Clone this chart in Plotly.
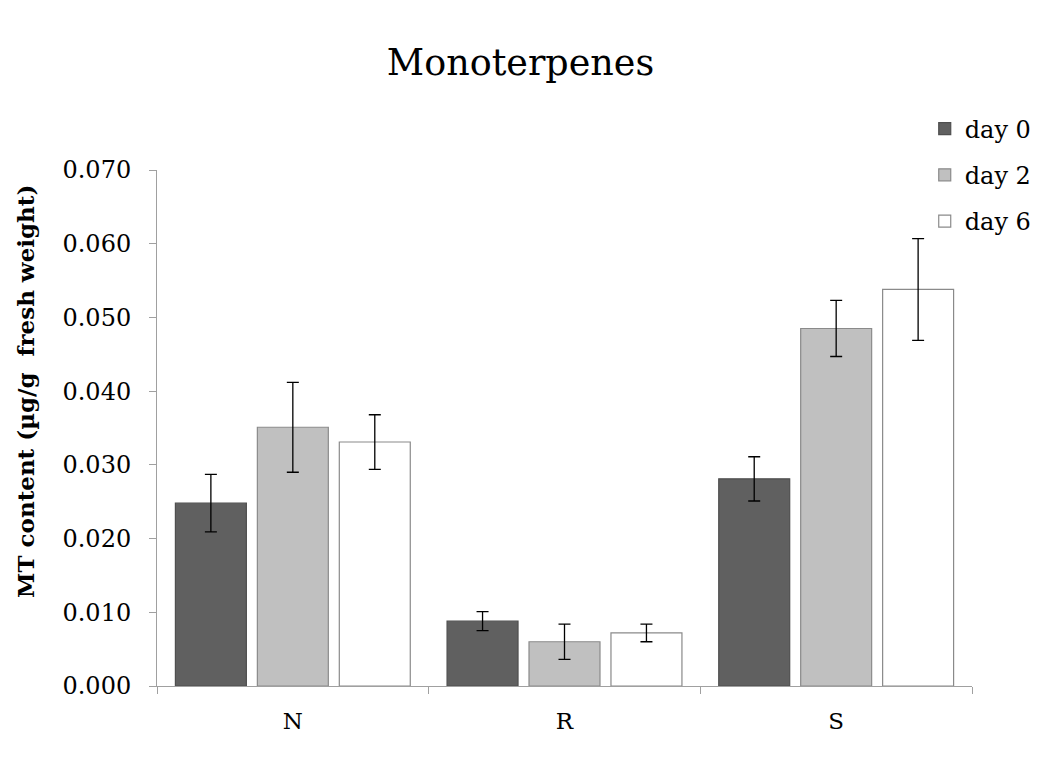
import plotly.graph_objects as go

# Monoterpene content per cultivar group and sampling day
categories = ["N", "R", "S"]
days = ["day 0", "day 2", "day 6"]
means = {
    "day 0": [0.0248, 0.0088, 0.0281],
    "day 2": [0.0351, 0.0060, 0.0485],
    "day 6": [0.0331, 0.0072, 0.0538],
}
errors = {
    "day 0": [0.0039, 0.0013, 0.0030],
    "day 2": [0.0061, 0.0024, 0.0038],
    "day 6": [0.0037, 0.0012, 0.0069],
}
y_ticks = [0.0, 0.01, 0.02, 0.03, 0.04, 0.05, 0.06, 0.07]

fills = {"day 0": "#606060", "day 2": "#c0c0c0", "day 6": "#ffffff"}
edges = {"day 0": "#4f4f4f", "day 2": "#8a8a8a", "day 6": "#8a8a8a"}

FONT = "DejaVu Serif"

fig = go.Figure()
for i, d in enumerate(days):
    fig.add_trace(go.Bar(
        x=categories,
        y=means[d],
        name=d,
        marker=dict(color=fills[d], line=dict(color=edges[d], width=1.2)),
        error_y=dict(type="data", array=errors[d], visible=True,
                     color="#000000", thickness=1.3, width=6),
        legendgroup=str(i),
    ))

fig.update_layout(
    width=1041,
    height=763,
    paper_bgcolor="white",
    plot_bgcolor="white",
    margin=dict(l=157, r=69, t=170, b=77, autoexpand=False),
    barmode="group",
    bargap=0.095,
    bargroupgap=0.134,
    title=dict(text="Monoterpenes", x=0.5, xanchor="center", y=0.918,
               yanchor="middle", font=dict(family=FONT, size=36.5, color="#000")),
    font=dict(family=FONT, color="#000"),
    legend=dict(x=0.942, xanchor="left", y=1.123, yanchor="top",
                font=dict(family=FONT, size=24, color="#000"),
                traceorder="grouped", tracegroupgap=12,
                bgcolor="rgba(0,0,0,0)"),
    xaxis=dict(
        showline=True, linecolor="#a0a0a0", linewidth=1,
        ticks="outside", tickson="boundaries", ticklen=7,
        tickcolor="#a0a0a0", showgrid=False, ticklabelstandoff=14,
        tickfont=dict(family=FONT, size=23, color="#000"),
    ),
    yaxis=dict(
        range=[0, 0.07],
        tickvals=y_ticks,
        tickformat=".3f",
        showline=True, linecolor="#a0a0a0", linewidth=1,
        ticks="outside", ticklen=7, tickcolor="#a0a0a0",
        showgrid=False, zeroline=False, ticklabelstandoff=13,
        tickfont=dict(family=FONT, size=24, color="#000"),
    ),
    annotations=[dict(
        text="<b>MT content (µg/g  fresh weight)</b>",
        textangle=-90, xref="paper", yref="paper",
        x=-0.1607, y=0.5698, xanchor="center", yanchor="middle",
        showarrow=False, font=dict(family=FONT, size=23, color="#000"),
    )],
)

fig.write_html("out.html")
